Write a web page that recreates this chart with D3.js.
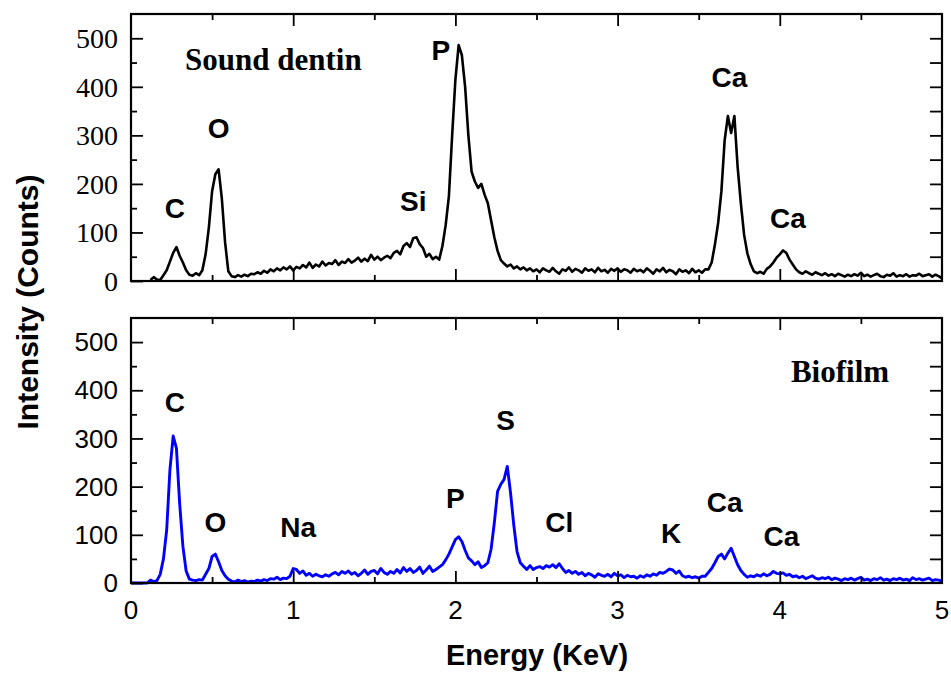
<!DOCTYPE html>
<html>
<head>
<meta charset="utf-8">
<script src="https://cdn.jsdelivr.net/npm/d3@7"></script>
<style>
  html, body { margin: 0; padding: 0; background: #fff; }
  svg { display: block; }
</style>
</head>
<body>
<svg id="chart" width="951" height="678"></svg>
<script>
// ---- Data (energy grid: 0 .. 5 KeV in 0.02 KeV steps) ----
const energyStart = 0, energyStep = 0.02;

const soundDentin = [
  null,null,null,null,null,null,2,8,3,2,
  12,22,40,58,70,52,38,22,13,11,
  16,12,22,55,110,185,220,230,170,80,
  20,10,8,12,9,13,10,15,14,18,
  15,21,17,24,20,26,22,28,24,30,
  22,29,26,33,28,38,27,34,30,40,
  32,37,35,43,33,40,37,45,38,42,
  48,40,46,41,54,44,50,43,48,52,
  47,58,62,55,72,78,70,88,90,76,
  68,50,56,45,50,44,72,115,175,300,
  415,486,465,400,300,225,205,192,200,178,
  160,125,90,62,43,36,30,34,26,30,
  24,28,22,26,20,24,18,26,22,19,
  27,20,15,24,21,28,19,25,22,17,
  26,21,24,18,27,20,23,17,25,21,
  26,19,24,22,17,25,20,23,18,26,
  21,15,24,20,27,18,23,20,14,24,
  19,22,16,25,18,22,17,24,24,38,
  75,120,185,290,340,305,340,235,160,95,
  57,35,20,16,19,15,25,30,38,48,
  55,63,58,44,34,24,18,15,20,16,
  13,18,15,12,16,11,14,10,15,12,
  9,13,10,14,11,17,10,13,9,12,
  15,10,8,13,11,16,9,12,10,14,
  9,12,11,15,10,12,14,9,13,10,
  5
];

const biofilm = [
  0,0,0,0,0,0,6,3,5,18,
  50,110,235,305,280,165,76,25,8,6,
  5,7,6,18,30,55,60,44,26,15,
  8,4,2,6,3,5,2,4,3,6,
  4,7,5,9,8,12,7,10,9,14,
  30,28,20,25,16,20,14,18,15,13,
  17,14,19,22,17,24,20,25,18,22,
  15,20,27,18,24,26,19,30,22,18,
  24,20,28,21,32,24,30,22,26,33,
  20,27,35,24,28,33,38,48,60,75,
  90,96,86,68,52,46,38,44,32,36,
  42,70,125,190,205,215,242,187,120,65,
  42,35,28,36,28,32,34,30,36,33,
  38,32,40,30,22,26,20,24,18,22,
  15,20,17,12,19,16,14,18,13,20,
  15,17,11,16,13,14,10,15,12,17,
  14,19,16,22,20,24,29,27,20,25,
  15,12,14,11,13,10,14,14,22,30,
  42,55,60,50,62,72,55,38,26,18,
  12,15,13,17,14,19,15,18,24,20,
  19,21,16,18,13,15,11,14,9,12,
  15,10,8,11,9,12,7,10,8,5,
  9,7,10,6,9,12,6,8,5,9,
  7,11,6,8,5,9,7,10,6,8,
  5,11,7,9,6,8,10,5,7,6,
  4
];

const xTicks = [0, 1, 2, 3, 4, 5];
const yTicks = [0, 100, 200, 300, 400, 500];

const topLabels = [
  {t: "C", e: 0.27, v: 130},
  {t: "O", e: 0.54, v: 295},
  {t: "Si", e: 1.74, v: 145},
  {t: "P", e: 1.91, v: 455},
  {t: "Ca", e: 3.69, v: 400},
  {t: "Ca", e: 4.05, v: 110}
];
const botLabels = [
  {t: "C", e: 0.27, v: 355},
  {t: "O", e: 0.52, v: 106},
  {t: "Na", e: 1.03, v: 96},
  {t: "P", e: 2.0, v: 156},
  {t: "S", e: 2.31, v: 318},
  {t: "Cl", e: 2.64, v: 106},
  {t: "K", e: 3.33, v: 83},
  {t: "Ca", e: 3.66, v: 148},
  {t: "Ca", e: 4.01, v: 76}
];

// ---- Drawing ----
const svg = d3.select("#chart");
const x = d3.scaleLinear().domain([0, 5]).range([131, 942]);
const SERIF = "'Liberation Serif', 'Times New Roman', serif";
const SANS = "'Liberation Sans', Arial, sans-serif";

const panels = [
  {data: soundDentin, color: "#000000", width: 2.6, y0: 14, y1: 281,
   tickFont: SERIF, tickSize: 28, labels: topLabels,
   title: "Sound dentin", titleX: 185, titleY: 70, titleAnchor: "start", xLabels: false},
  {data: biofilm, color: "#0000ff", width: 2.9, y0: 318, y1: 583,
   tickFont: SANS, tickSize: 26, labels: botLabels,
   title: "Biofilm", titleX: 840, titleY: 382, titleAnchor: "middle", xLabels: true}
];

function styleTicks(sel) {
  sel.select(".domain").remove();
  sel.selectAll("line").attr("stroke", "#000").attr("stroke-width", 1.8);
}

panels.forEach(p => {
  const y = d3.scaleLinear().domain([0, 550]).range([p.y1, p.y0]);
  const g = svg.append("g");

  // data line
  const pts = p.data.map((v, i) => ({e: energyStart + i * energyStep, v}));
  const line = d3.line()
    .defined(d => d.v !== null)
    .x(d => x(d.e)).y(d => y(d.v));
  g.append("path").datum(pts)
    .attr("fill", "none").attr("stroke", p.color)
    .attr("stroke-width", p.width).attr("stroke-linejoin", "round")
    .attr("d", line);

  // left ticks (major + minor)
  styleTicks(g.append("g").attr("transform", "translate(131,0)")
    .call(d3.axisLeft(y).tickValues(yTicks).tickSize(-12).tickFormat("")));
  styleTicks(g.append("g").attr("transform", "translate(131,0)")
    .call(d3.axisLeft(y).tickValues([50,150,250,350,450]).tickSize(-6).tickFormat("")));

  // left tick labels
  g.selectAll("text.ylab").data(yTicks).join("text")
    .attr("class", "ylab")
    .attr("x", 118).attr("y", d => y(d)).attr("dy", "0.35em")
    .attr("text-anchor", "end")
    .attr("font-family", p.tickFont).attr("font-size", p.tickSize)
    .attr("fill", "#000").text(d => d);

  // right ticks
  styleTicks(g.append("g").attr("transform", "translate(942,0)")
    .call(d3.axisRight(y).tickValues([50,100,150,200,250,300,350,400,450,500]).tickSize(-12).tickFormat("")));

  // top & bottom ticks
  const xMinor = [0.5, 1.5, 2.5, 3.5, 4.5];
  const xMajorInner = [1, 2, 3, 4];
  [[p.y0, d3.axisTop], [p.y1, d3.axisBottom]].forEach(([yy, ax]) => {
    styleTicks(g.append("g").attr("transform", `translate(0,${yy})`)
      .call(ax(x).tickValues(xMajorInner).tickSize(-12).tickFormat("")));
    styleTicks(g.append("g").attr("transform", `translate(0,${yy})`)
      .call(ax(x).tickValues(xMinor).tickSize(-6).tickFormat("")));
  });

  if (p.xLabels) {
    g.selectAll("text.xlab").data(xTicks).join("text")
      .attr("class", "xlab")
      .attr("x", d => x(d)).attr("y", p.y1 + 36)
      .attr("text-anchor", "middle")
      .attr("font-family", SANS).attr("font-size", 26)
      .attr("fill", "#000").text(d => d);
  }

  // frame
  g.append("rect").attr("x", 131).attr("y", p.y0)
    .attr("width", 942 - 131).attr("height", p.y1 - p.y0)
    .attr("fill", "none").attr("stroke", "#000").attr("stroke-width", 2.2);

  // peak labels
  g.selectAll("text.peak").data(p.labels).join("text")
    .attr("class", "peak")
    .attr("x", d => x(d.e)).attr("y", d => y(d.v))
    .attr("text-anchor", "middle")
    .attr("font-family", SANS)
    .attr("font-weight", "bold").attr("font-size", 28).attr("fill", "#000")
    .text(d => d.t);

  // panel title
  g.append("text").attr("x", p.titleX).attr("y", p.titleY)
    .attr("text-anchor", p.titleAnchor)
    .attr("font-family", SERIF)
    .attr("font-weight", "bold").attr("font-size", 31).attr("fill", "#000")
    .text(p.title);
});

// axis titles
svg.append("text").attr("x", 537).attr("y", 665).attr("text-anchor", "middle")
  .attr("font-family", SANS).attr("font-weight", "bold")
  .attr("font-size", 29).attr("fill", "#000").text("Energy (KeV)");
svg.append("text").attr("transform", "translate(38,302) rotate(-90)").attr("text-anchor", "middle")
  .attr("font-family", SANS).attr("font-weight", "bold")
  .attr("font-size", 30).attr("fill", "#000").text("Intensity (Counts)");
</script>
</body>
</html>
